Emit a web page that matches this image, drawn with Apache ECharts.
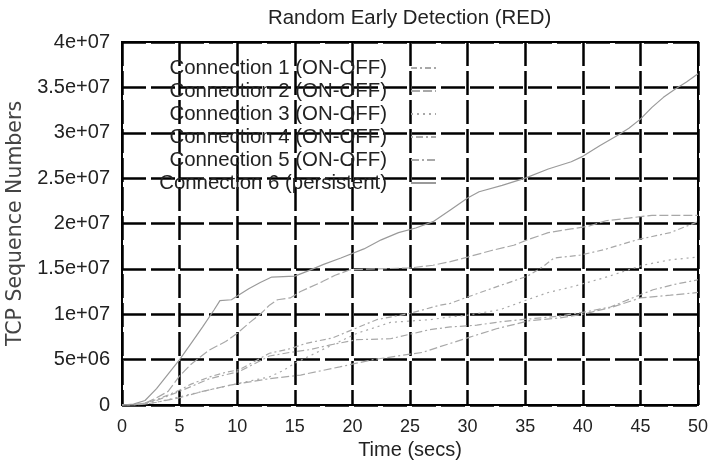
<!DOCTYPE html>
<html>
<head>
<meta charset="utf-8">
<script src="https://cdn.jsdelivr.net/npm/echarts@6/dist/echarts.min.js"></script>
<style>
  html, body { margin: 0; padding: 0; background: #fff; }
  #chart { width: 710px; height: 467px; }
</style>
</head>
<body>
<div id="chart"></div>
<script>
// Sequence-number traces for six TCP connections through a RED queue
var seriesNames = [
  'Connection 1 (ON-OFF)',
  'Connection 2 (ON-OFF)',
  'Connection 3 (ON-OFF)',
  'Connection 4 (ON-OFF)',
  'Connection 5 (ON-OFF)',
  'Connection 6 (persistent)'
];

var conn1Time = [0, 1, 2, 3, 4, 5, 6, 7.6, 9, 10.2, 11.5, 12.8, 14.6, 16, 18.3, 20, 22.1, 25, 27.6, 28.5, 30, 32, 35.2, 36.5, 37.5, 39.7, 41.8, 44.7, 47.6, 50];
var conn1Seq  = [0, 0, 0.2e6, 0.6e6, 1.1e6, 1.65e6, 2.3e6, 3.1e6, 3.6e6, 3.9e6, 4.8e6, 5.7e6, 6.2e6, 6.8e6, 7.4e6, 8.3e6, 9.4e6, 1.01e7, 1.1e7, 1.12e7, 1.19e7, 1.28e7, 1.42e7, 1.52e7, 1.62e7, 1.65e7, 1.71e7, 1.82e7, 1.9e7, 2.02e7];

var conn2Time = [0, 1, 2, 3, 4, 5, 6, 7.5, 9, 10, 11, 12, 12.8, 13.5, 14.6, 15.5, 17.4, 18.5, 19.8, 22, 25, 27, 28.5, 30, 32, 34, 35.2, 37, 39, 40.5, 42, 44, 46, 50];
var conn2Seq  = [0, 0, 0.2e6, 0.8e6, 1.5e6, 3.2e6, 4.5e6, 6e6, 7e6, 7.9e6, 9e6, 1.0e7, 1.1e7, 1.16e7, 1.18e7, 1.25e7, 1.36e7, 1.43e7, 1.49e7, 1.5e7, 1.51e7, 1.54e7, 1.58e7, 1.63e7, 1.7e7, 1.76e7, 1.82e7, 1.9e7, 1.94e7, 1.97e7, 2.03e7, 2.06e7, 2.09e7, 2.09e7];

var conn3Time = [0, 1, 2, 3, 5, 7, 10.2, 12.8, 14, 15, 17.4, 20.4, 23.3, 26.7, 28.5, 30, 32.8, 35.2, 37, 39, 41.8, 45.2, 47.6, 50];
var conn3Seq  = [0, 0, 0.1e6, 0.3e6, 0.9e6, 1.5e6, 2.4e6, 3.1e6, 3.8e6, 4.6e6, 6.1e6, 7.9e6, 9.1e6, 9.4e6, 9.7e6, 9.9e6, 1.05e7, 1.16e7, 1.24e7, 1.3e7, 1.4e7, 1.54e7, 1.6e7, 1.63e7];

var conn4Time = [0, 1, 2, 3, 5, 7.6, 10.2, 12.8, 14.6, 16.3, 18, 20.4, 23.3, 26.7, 28.5, 30.8, 33, 35.5, 38, 40.4, 42.4, 44.7, 46.1, 48, 50];
var conn4Seq  = [0, 0, 0.2e6, 0.5e6, 1.5e6, 2.9e6, 3.7e6, 5.4e6, 5.8e6, 6.1e6, 6.6e6, 7.2e6, 7.3e6, 8.3e6, 8.6e6, 8.8e6, 9.2e6, 9.5e6, 9.8e6, 1.03e7, 1.08e7, 1.2e7, 1.27e7, 1.33e7, 1.38e7];

var conn5Time = [0, 1, 2, 3, 5, 7, 9.4, 12.8, 15.5, 18.9, 21.8, 25, 26.1, 27.3, 30, 32.5, 35.4, 38, 40, 42.6, 45, 47.6, 50];
var conn5Seq  = [0, 0, 0.1e6, 0.3e6, 0.8e6, 1.5e6, 2.2e6, 2.9e6, 3.3e6, 4.2e6, 5e6, 5.6e6, 5.8e6, 6.3e6, 7.4e6, 8.4e6, 9.3e6, 9.6e6, 1.0e7, 1.08e7, 1.18e7, 1.21e7, 1.24e7];

var conn6Time = [0, 1, 2, 3, 4, 5, 6, 7, 8, 8.5, 9.5, 10, 11, 12, 13, 15, 16, 17.5, 19, 21, 22.5, 24, 25.5, 27, 28.5, 30, 31, 33, 35, 37, 39, 40, 41.5, 43, 44, 45, 46, 47, 48, 49, 50];
var conn6Seq  = [0, 0.1e6, 0.5e6, 1.8e6, 3.4e6, 5e6, 6.8e6, 8.6e6, 1.05e7, 1.15e7, 1.16e7, 1.2e7, 1.28e7, 1.35e7, 1.41e7, 1.42e7, 1.47e7, 1.55e7, 1.62e7, 1.72e7, 1.82e7, 1.9e7, 1.95e7, 2.02e7, 2.15e7, 2.28e7, 2.35e7, 2.42e7, 2.5e7, 2.6e7, 2.68e7, 2.74e7, 2.86e7, 2.97e7, 3.05e7, 3.15e7, 3.28e7, 3.39e7, 3.48e7, 3.56e7, 3.65e7];

var xTicks = [0, 5, 10, 15, 20, 25, 30, 35, 40, 45, 50];
var yTickLabels = ['0', '5e+06', '1e+07', '1.5e+07', '2e+07', '2.5e+07', '3e+07', '3.5e+07', '4e+07'];

var times = [conn1Time, conn2Time, conn3Time, conn4Time, conn5Time, conn6Time];
var seqs  = [conn1Seq, conn2Seq, conn3Seq, conn4Seq, conn5Seq, conn6Seq];
var dashes = [[6, 3, 2, 3], [9, 3], [2, 4], [2, 3, 7, 3], [8, 3, 2, 3, 8, 3], 'solid'];

function pairs(t, v) {
  var out = [];
  for (var i = 0; i < t.length; i++) out.push([t[i], v[i]]);
  return out;
}

var SANS = '"Liberation Sans", Arial, Helvetica, sans-serif';
var WIDE = '"DejaVu Sans", "Liberation Sans", sans-serif';
var chart = echarts.init(document.getElementById('chart'), null, { renderer: 'canvas' });

var gridLine = { show: true, lineStyle: { color: '#000', width: 2.5, type: [24, 5] } };

chart.setOption({
  animation: false,
  backgroundColor: '#fff',
  title: {
    text: 'Random Early Detection (RED)',
    left: 268, top: 8, padding: 0,
    textStyle: { fontFamily: SANS, fontSize: 20.4, fontWeight: 'normal', color: '#222' }
  },
  grid: {
    left: 122, right: 12, top: 42, bottom: 62,
    containLabel: false, outerBoundsMode: 'none',
    show: true, borderColor: '#000', borderWidth: 2, backgroundColor: 'transparent'
  },
  legend: {
    data: seriesNames,
    orient: 'vertical',
    align: 'right',
    right: 273,
    top: 58,
    padding: 0,
    itemWidth: 25,
    itemHeight: 10,
    itemGap: 3,
    selectedMode: false,
    itemStyle: { opacity: 0 },
    textStyle: { fontFamily: SANS, fontSize: 20.4, color: '#222', lineHeight: 20, padding: [0, 19, 0, 0] }
  },
  xAxis: {
    type: 'value', min: 0, max: 50, interval: 5,
    name: 'Time (secs)', nameLocation: 'middle', nameGap: 35,
    nameTextStyle: { fontFamily: SANS, fontSize: 20, color: '#222' },
    axisLine: { show: true, lineStyle: { color: '#000', width: 2 } },
    axisTick: { show: false },
    axisLabel: {
      margin: 13, fontFamily: SANS, fontSize: 18, color: '#222',
      formatter: function (v) { return xTicks.indexOf(v) >= 0 ? String(v) : ''; }
    },
    splitLine: gridLine
  },
  yAxis: {
    type: 'value', min: 0, max: 4e7, interval: 5e6,
    name: 'TCP Sequence Numbers', nameLocation: 'middle', nameGap: 86,
    nameTextStyle: { fontFamily: WIDE, fontSize: 20.5, color: '#444' },
    axisLine: { show: true, lineStyle: { color: '#000', width: 2 } },
    axisTick: { show: false },
    axisLabel: {
      margin: 12, fontFamily: SANS, fontSize: 20, color: '#222',
      formatter: function (v) { return yTickLabels[Math.round(v / 5e6)]; }
    },
    splitLine: gridLine
  },
  series: seriesNames.map(function (name, i) {
    var c = i === 5 ? '#9a9a9a' : '#a8a8a8';
    return {
      name: name,
      type: 'line',
      data: pairs(times[i], seqs[i]),
      symbol: 'none',
      color: c,
      z: 3,
      lineStyle: { color: c, width: 1.2, type: dashes[i] }
    };
  })
});
</script>
</body>
</html>
